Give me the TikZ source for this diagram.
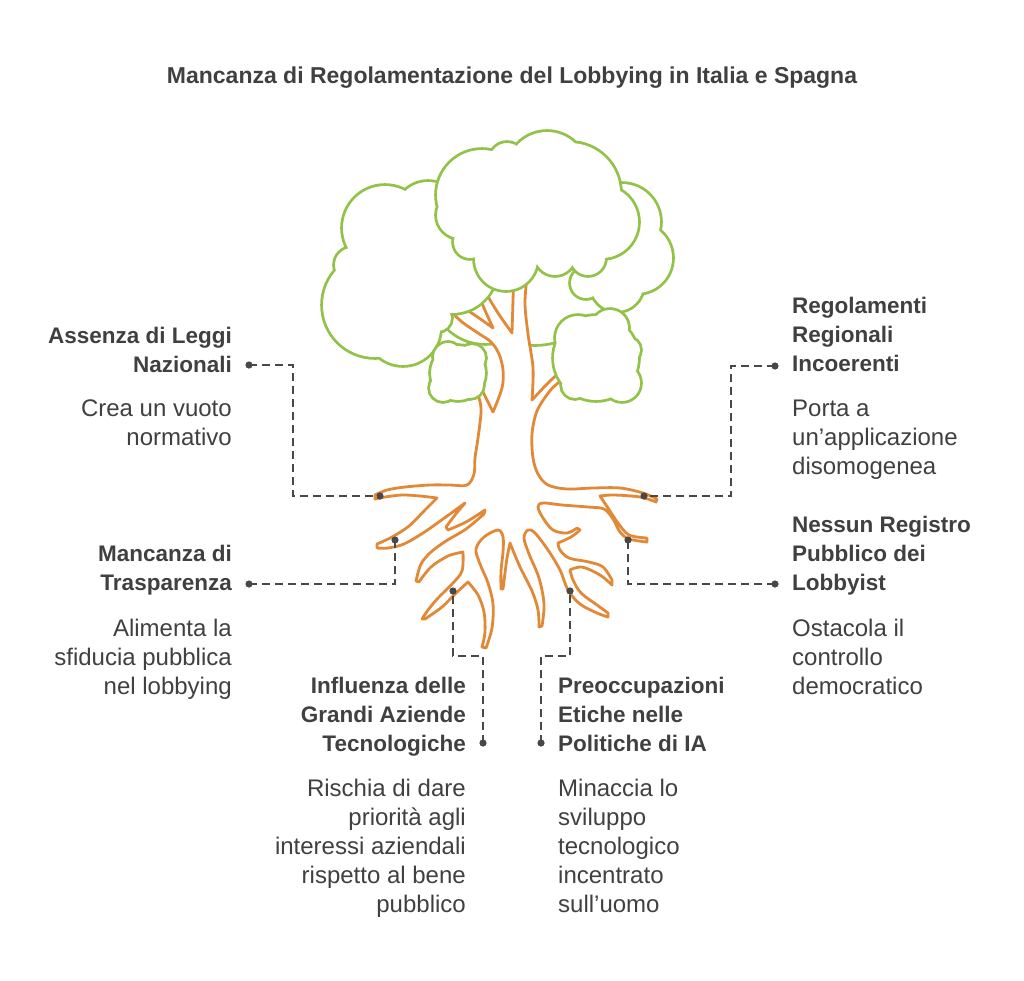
\documentclass[tikz,border=0pt]{standalone}
\usepackage{fontspec}
\setmainfont{Liberation Sans}
\definecolor{leafgreen}{RGB}{146,194,72}
\definecolor{barkorange}{RGB}{226,137,56}
\definecolor{inkgray}{RGB}{64,64,64}
\definecolor{linkgray}{RGB}{72,72,72}
\newcommand\lblhead{\fontsize{22.5}{29}\selectfont\bfseries}
\newcommand\lbltext{\fontsize{24}{29}\selectfont}
\tikzset{
  leaf/.style={preaction={draw=leafgreen, line width=5.6pt}, fill=white},
  bark/.style={draw=barkorange, line width=2.8pt, fill=white, line join=round, line cap=round},
  sm/.style={smooth, tension=.55},
  link/.style={draw=linkgray, line width=2.4pt, dash pattern=on 8pt off 5pt},
  pin/.style={fill=linkgray},
  head/.style={font=\lblhead, text=inkgray, inner sep=0pt},
  desc/.style={font=\lbltext, text=inkgray, inner sep=0pt}
}
\begin{document}
\begin{tikzpicture}[x=1pt,y=-1pt]
\path[fill=white,use as bounding box] (0,0) rectangle (1024,980);

\node[font=\fontsize{23}{28}\selectfont\bfseries, text=inkgray, anchor=base] (title) at (512,83) {Mancanza di Regolamentazione del Lobbying in Italia e Spagna};

\path[leaf] (485,290) circle (53pt) (535,270) circle (74pt) (588,308) circle (22pt);

\draw[bark] plot[sm] coordinates {(514,268) (513,300) (512,333)}
 -- plot[sm] coordinates {(512,333) (500,316) (490,300) (486,292)}
 -- plot[sm] coordinates {(478,293) (484,308) (493,328)}
 -- plot[sm] coordinates {(493,328) (479,318) (466,309) (459,302)}
 -- plot[sm] coordinates {(446,307) (462,322) (478,333) (491,342) (499,354) (503,370) (502,388) (493,412)}
 -- plot[sm] coordinates {(493,412) (487,400) (481,388)}
 -- plot[sm] coordinates {(472,385) (479,398) (481,412) (478,438) (475,458) (474,474) (467,485) (450,485) (430,485) (405,487) (387,490) (375,495)}
 -- plot[sm] coordinates {(375,499) (385,497) (402,495) (420,496) (437,498)}
 -- plot[sm] coordinates {(437,498) (425,510) (409,526) (392,537) (377,544)}
 -- plot[sm] coordinates {(377,548) (388,548) (404,544) (423,533) (443,519) (465,503)}
 -- plot[sm] coordinates {(465,503) (455,515) (446,527)}
 -- plot[sm] coordinates {(448,530) (466,522) (485,510)}
 -- plot[sm] coordinates {(484,514) (466,529) (446,541) (431,552) (421,564) (416,581)}
 -- plot[sm] coordinates {(419,582) (431,567) (448,556) (463,552)}
 -- plot[sm] coordinates {(463,552) (462,571) (452,584) (438,598) (428,610) (422,619)}
 -- plot[sm] coordinates {(425,619) (442,607) (455,594) (468,582)}
 -- plot[sm] coordinates {(468,582) (478,595) (484,612) (485,632) (482,647)}
 -- plot[sm] coordinates {(486,648) (492,628) (493,604) (488,583) (480,564) (476,549) (484,537) (498,530) (503,537) (503,552) (501,571) (501,589)}
 -- plot[sm] coordinates {(503,589) (505,573) (507,558) (510,543)}
 -- plot[sm] coordinates {(510,543) (520,567) (532,591) (538,610) (539,627)}
 -- plot[sm] coordinates {(542,626) (544,604) (539,578) (529,554) (524,538) (528,530) (535,533) (548,550) (560,570) (568,590) (580,604) (597,613) (608,617)}
 -- plot[sm] coordinates {(608,613) (597,605) (581,593) (573,580) (570,570)}
 -- plot[sm] coordinates {(570,570) (582,567) (600,575) (612,585)}
 -- plot[sm] coordinates {(612,580) (603,567) (589,562) (569,558) (560,550) (558,543)}
 -- plot[sm] coordinates {(558,543) (571,537) (580,530)}
 -- plot[sm] coordinates {(577,528) (567,533) (553,530) (543,518) (538,507) (543,503) (562,505) (588,507) (604,509) (613,519) (620,532) (629,539) (647,542)}
 -- plot[sm] coordinates {(647,538) (629,535) (618,523) (608,508) (600,496)}
 -- plot[sm] coordinates {(600,496) (614,495) (640,497) (656,502)}
 -- plot[sm] coordinates {(657,499) (643,493) (620,488) (593,488) (567,489) (548,485) (538,474) (533,458) (532,434) (537,411) (549,392) (558,383) (568,376)}
 -- plot[sm] coordinates {(560,372) (548,383) (532,400)}
 -- plot[sm] coordinates {(532,400) (533,368) (528,334) (525,302) (528,268)}
 -- cycle;

\path[leaf] (385,228) circle (42pt) (428,215) circle (33pt) (352,265) circle (17pt) (375,305) circle (52pt)
  (403,328) circle (37pt) (438,318) circle (13pt) (452,268) circle (45pt) (410,260) circle (50pt) (440,240) circle (35pt);
\path[leaf] (622,222) circle (38pt) (637,258) circle (35pt) (617,285) circle (26pt) (586,283) circle (15pt) (610,250) circle (40pt);
\path[leaf] (547,172) circle (40pt) (507,160) circle (17pt) (482,195) circle (45pt) (570,193) circle (50pt)
  (602,222) circle (36pt) (588,258) circle (17pt) (555,255) circle (20pt) (506,259) circle (31pt)
  (470,242) circle (16pt) (460,215) circle (23pt) (530,210) circle (55pt) (580,235) circle (30pt);
\path[leaf] (458,373) circle (27pt) (448,357) circle (14pt) (472,358) circle (13pt) (470,385) circle (13pt) (443,388) circle (13pt);
\path[leaf] (596,358) circle (42pt) (578,338) circle (22pt) (610,328) circle (18pt) (622,383) circle (18pt) (628,350) circle (12pt) (575,385) circle (13pt);

\node[head, align=right, anchor=north east] (hA) at (232,327) {Assenza di Leggi\\Nazionali};
\node[desc, align=right, anchor=north east] (tA) at (232,400) {Crea un vuoto\\normativo};
\node[head, align=right, anchor=north east] (hB) at (232,545) {Mancanza di\\Trasparenza};
\node[desc, align=right, anchor=north east] (tB) at (232,619) {Alimenta la\\sfiducia pubblica\\nel lobbying};
\node[head, align=right, anchor=north east] (hC) at (466,677) {Influenza delle\\Grandi Aziende\\Tecnologiche};
\node[desc, align=right, anchor=north east] (tC) at (466,779) {Rischia di dare\\priorità agli\\interessi aziendali\\rispetto al bene\\pubblico};
\node[head, align=left, anchor=north west] (hD) at (792,297) {Regolamenti\\Regionali\\Incoerenti};
\node[desc, align=left, anchor=north west] (tD) at (792,400) {Porta a\\un'applicazione\\disomogenea};
\node[head, align=left, anchor=north west] (hE) at (792,516) {Nessun Registro\\Pubblico dei\\Lobbyist};
\node[desc, align=left, anchor=north west] (tE) at (792,619) {Ostacola il\\controllo\\democratico};
\node[head, align=left, anchor=north west] (hF) at (558,677) {Preoccupazioni\\Etiche nelle\\Politiche di IA};
\node[desc, align=left, anchor=north west] (tF) at (558,779) {Minaccia lo\\sviluppo\\tecnologico\\incentrato\\sull'uomo};

\coordinate (pA) at (249,365); \coordinate (rA) at (380,496);
\coordinate (pB) at (249,584); \coordinate (rB) at (395,540);
\coordinate (pC) at (483,743); \coordinate (rC) at (453,591);
\coordinate (pD) at (541,743); \coordinate (rD) at (570,591);
\coordinate (pE) at (775,366); \coordinate (rE) at (644,496);
\coordinate (pF) at (775,584); \coordinate (rF) at (628,540);

\draw[link] (pA) -- ++(44,0) |- (rA);
\draw[link] (pB) -| (rB);
\draw[link] (pC) -- ++(0,-87) -| (rC);
\draw[link] (pD) -- ++(0,-87) -| (rD);
\draw[link] (pE) -- ++(-44,0) |- (rE);
\draw[link] (pF) -| (rF);

\fill[pin] (pA) circle (3.6pt) (rA) circle (3.6pt) (pB) circle (3.6pt) (rB) circle (3.6pt);
\fill[pin] (pC) circle (3.6pt) (rC) circle (3.6pt) (pD) circle (3.6pt) (rD) circle (3.6pt);
\fill[pin] (pE) circle (3.6pt) (rE) circle (3.6pt) (pF) circle (3.6pt) (rF) circle (3.6pt);
\end{tikzpicture}
\end{document}
